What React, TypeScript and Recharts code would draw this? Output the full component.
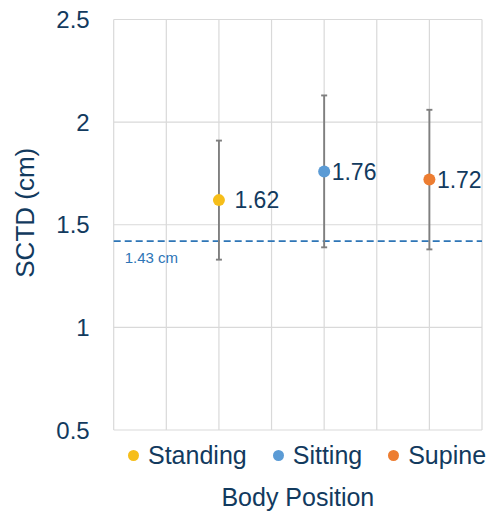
import { ScatterChart, Scatter, XAxis, YAxis, ZAxis, CartesianGrid, ErrorBar, LabelList, ReferenceLine, Legend } from 'recharts';

// categories and values
const positions = ['Standing', 'Sitting', 'Supine'];
const xSlots = [2, 4, 6];
const means = [1.62, 1.76, 1.72];
const lows = [1.33, 1.39, 1.38];
const highs = [1.91, 2.13, 2.06];
const threshold = 1.42;
const thresholdLabel = '1.43 cm';
const yTicks = [0.5, 1, 1.5, 2, 2.5];
const xGridTicks = [0, 1, 2, 3, 4, 5, 6, 7];

const colors = ['#F6BE1A', '#5B9BD5', '#ED7D31'];
const labelGaps = [11, 3, 3];

const FONT = "'Liberation Sans', Arial, sans-serif";
const TEXT = '#123A5E';

const series = positions.map((name, i) => ({
  name,
  color: colors[i],
  data: [{ x: xSlots[i], y: means[i], err: [means[i] - lows[i], highs[i] - means[i]] }],
}));

const renderLegend = () => (
  <div style={{ display: 'flex', alignItems: 'center', fontFamily: FONT, fontSize: 25, color: TEXT, lineHeight: '30px', whiteSpace: 'nowrap' }}>
    {series.map((s) => (
      <div key={s.name} style={{ display: 'flex', alignItems: 'center', marginRight: 26 }}>
        <span style={{ display: 'inline-block', width: 11, height: 11, borderRadius: '50%', background: s.color, marginRight: 9 }} />
        <span>{s.name}</span>
      </div>
    ))}
  </div>
);

const Dot = (props: any) => <circle cx={props.cx} cy={props.cy} r={6} fill={props.fill} />;

function App() {
  return (
    <div style={{ position: 'absolute', left: 0, top: 0 }}>
      <ScatterChart width={490} height={513} margin={{ top: 19.5, right: 8, left: 8, bottom: 0 }}>
        <CartesianGrid stroke="#D9D9D9" strokeWidth={1.2} />
        <XAxis
          dataKey="x"
          type="number"
          domain={[0, 7]}
          ticks={xGridTicks}
          tickFormatter={() => ''}
          tickLine={false}
          axisLine={false}
          height={83}
          label={({ viewBox }: any) => (
            <text
              x={viewBox.x + viewBox.width / 2}
              y={viewBox.y + 76}
              textAnchor="middle"
              fontFamily={FONT}
              fontSize={25}
              fill={TEXT}
            >
              Body Position
            </text>
          )}
        />
        <YAxis
          dataKey="y"
          type="number"
          domain={[0.5, 2.5]}
          ticks={yTicks}
          tickLine={false}
          axisLine={false}
          tickSize={0}
          tickMargin={24}
          width={105.7}
          tick={{ fontFamily: FONT, fontSize: 24, fill: TEXT }}
          label={({ viewBox }: any) => (
            <text
              x={25}
              y={viewBox.y + viewBox.height / 2 - 12}
              transform={`rotate(-90, 25, ${viewBox.y + viewBox.height / 2 - 12})`}
              textAnchor="middle"
              dominantBaseline="central"
              fontFamily={FONT}
              fontSize={26}
              fill={TEXT}
            >
              SCTD (cm)
            </text>
          )}
        />
        <ZAxis range={[113, 113]} />
        <ReferenceLine
          y={threshold}
          stroke="#2E75B6"
          strokeWidth={1.8}
          strokeDasharray="7 4"
          label={({ viewBox }: any) => (
            <text x={viewBox.x + 11} y={viewBox.y + 16} dominantBaseline="central" fontFamily={FONT} fontSize={15} fill="#2E75B6">
              {thresholdLabel}
            </text>
          )}
        />
        {series.map((s, i) => (
          <Scatter key={s.name} name={s.name} data={s.data} fill={s.color} shape={<Dot />} isAnimationActive={false}>
            <ErrorBar dataKey="err" direction="y" stroke="#7F7F7F" strokeWidth={1.9} width={3} />
            <LabelList
              dataKey="y"
              position="right"
              offset={labelGaps[i]}
              style={{ fontFamily: FONT, fontSize: 23, fill: TEXT }}
            />
          </Scatter>
        ))}
        <Legend
          layout="horizontal"
          verticalAlign="middle"
          align="center"
          content={renderLegend}
          wrapperStyle={{ left: 128, top: 440, width: 'auto' }}
        />
      </ScatterChart>
    </div>
  );
}

export default App;
